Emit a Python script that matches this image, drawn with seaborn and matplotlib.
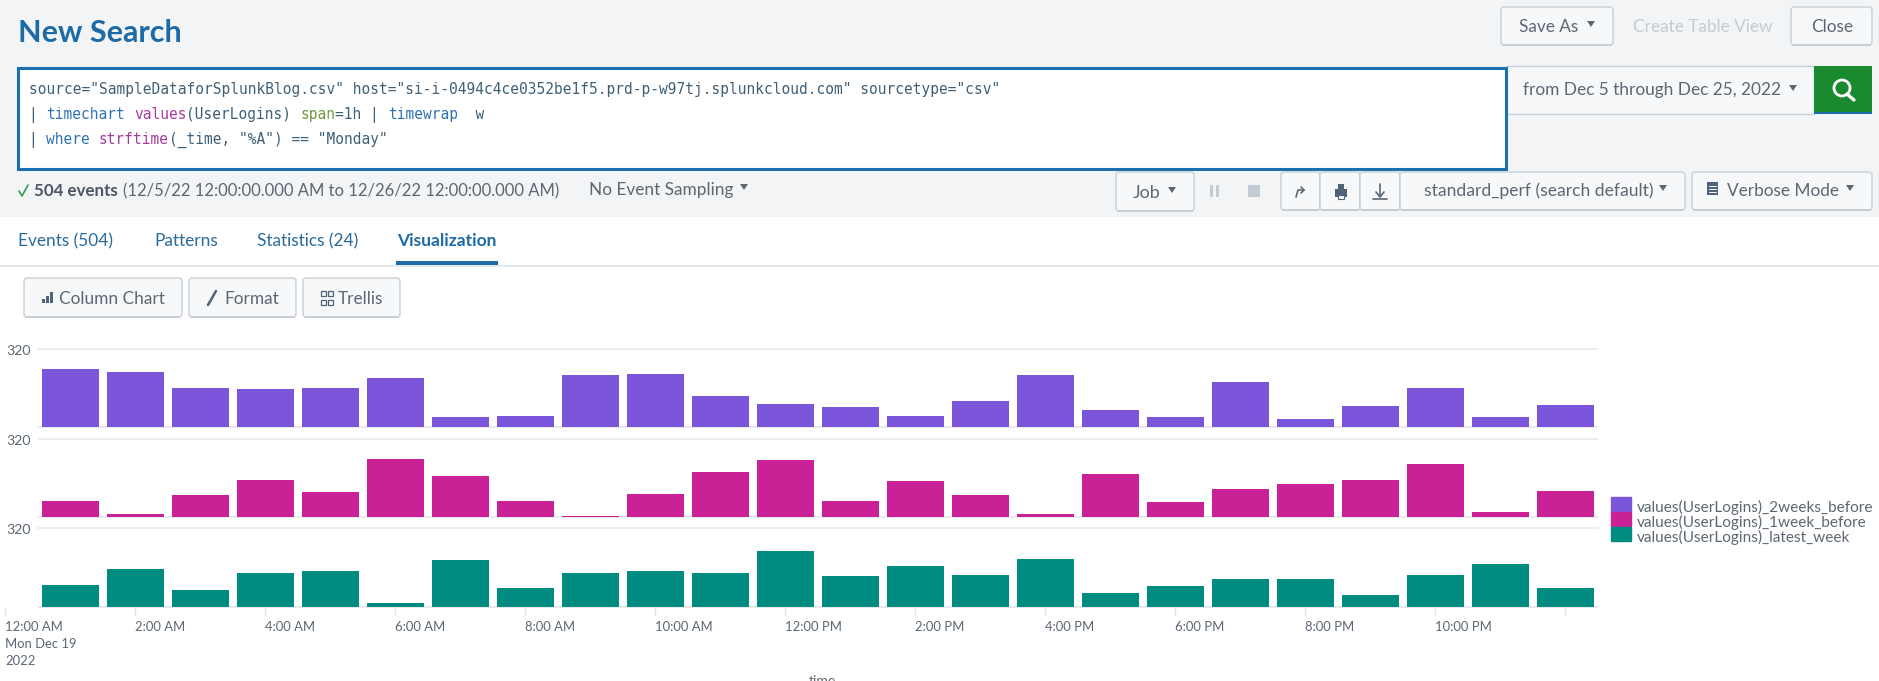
import matplotlib
matplotlib.use("Agg")
import matplotlib.pyplot as plt
from matplotlib.patches import Rectangle, FancyBboxPatch, Polygon, Circle, Patch
from matplotlib.transforms import ScaledTranslation
import pandas as pd
import seaborn as sns

hours = [f"{h:02d}:00" for h in range(24)]
two_weeks_before = [239, 226, 163, 159, 163, 204, 41, 45, 215, 220, 127, 97,
                    82, 45, 107, 215, 71, 41, 185, 36, 86, 163, 41, 92]
one_week_before = [66, 15, 92, 153, 103, 241, 168, 66, 5, 97, 185, 235,
                   66, 148, 92, 15, 179, 62, 118, 138, 153, 220, 21, 107]
latest_week = [88, 155, 67, 139, 145, 16, 190, 78, 139, 145, 139, 227,
               124, 165, 129, 196, 57, 83, 114, 114, 46, 129, 175, 78]
series_names = ["values(UserLogins)_2weeks_before",
                "values(UserLogins)_1week_before",
                "values(UserLogins)_latest_week"]
series_values = [two_weeks_before, one_week_before, latest_week]
series_colors = ["#7B56DB", "#CB2196", "#008C80"]
y_max = 320
x_tick_labels = ["12:00 AM\nMon Dec 19\n2022", "2:00 AM", "4:00 AM", "6:00 AM", "8:00 AM",
                 "10:00 AM", "12:00 PM", "2:00 PM", "4:00 PM", "6:00 PM", "8:00 PM", "10:00 PM", ""]

W, H = 1879, 681
sns.set_theme(style="white")
plt.rcParams["font.family"] = ["Lato", "DejaVu Sans"]
fig = plt.figure(figsize=(W / 100, H / 100), dpi=100, facecolor="white")

# ---------- search-page chrome, laid out in pixels ----------
ui = fig.add_axes([0, 0, 1, 1], zorder=0)
ui.set_xlim(0, W); ui.set_ylim(H, 0); ui.axis("off")
BLUE, GREY, MUTED = "#1e6aa6", "#5c6773", "#c3cbd4"

def T(x, y, s, px=16, color=GREY, ha="left", **kw):
    ui.text(x, y, s, fontsize=px * 0.72, color=color, ha=ha, va="center_baseline", **kw)

def R(x0, y0, x1, y1, fc, ec="none", lw=0, z=1):
    ui.add_patch(Rectangle((x0, y0), x1 - x0, y1 - y0, fc=fc, ec=ec, lw=lw, zorder=z))

def B(x0, y0, x1, y1):
    ui.add_patch(FancyBboxPatch((x0 + 2, y0 + 2), x1 - x0 - 4, y1 - y0 - 4,
                                boxstyle="round,pad=2,rounding_size=3",
                                fc="#f7f8fa", ec="#c8cfd6", lw=1.0, zorder=2))
    ui.plot([x0 + 2, x1 - 2], [y1, y1], color="#c3cbd4", lw=1.2, zorder=3)

def caret(x, y, c=GREY):
    ui.add_patch(Polygon([(x - 4, y - 3), (x + 4, y - 3), (x, y + 3)], fc=c, ec="none", zorder=4))

R(0, 0, W, 217, "#f2f4f5", z=0)
T(18, 31, "New Search", 30.5, BLUE, weight="bold")

B(1501, 7, 1613, 45); T(1519, 25, "Save As", 17.3); caret(1591, 24)
T(1703, 25, "Create Table View", 17.3, MUTED, ha="center")
B(1791, 7, 1872, 45); T(1832, 25, "Close", 17.3, ha="center")

# query box
R(1506, 66, 1814, 114, "#f7f8fa", "#c8cfd6", 1.0, z=1)
R(18.5, 67.5, 1506, 168.5, "white", "#1a6fb0", 2.2, z=2)
T(1523, 89, "from Dec 5 through Dec 25, 2022", 17.3); caret(1793, 88)
R(1814, 66, 1872, 114, "#1a8a2e", z=2)
R(1814, 112, 1872, 114, "#1a6fb0", z=3)
ui.add_patch(Circle((1842, 88), 8, fc="none", ec="white", lw=2, zorder=4))
ui.plot([1847, 1854], [94, 100], color="white", lw=2.4, zorder=4)

C_TXT, C_CMD, C_FN, C_ARG = "#3f5f76", "#2d72b5", "#a8389f", "#6c9a3c"
code_lines = [
    [('source="SampleDataforSplunkBlog.csv" host="si-i-0494c4ce0352be1f5.prd-p-w97tj.splunkcloud.com" sourcetype="csv"', C_TXT)],
    [("| ", C_TXT), ("timechart", C_CMD), (" ", C_TXT), ("values", C_FN), ("(UserLogins) ", C_TXT),
     ("span", C_ARG), ("=1h | ", C_TXT), ("timewrap", C_CMD), ("  w", C_TXT)],
    [("| ", C_TXT), ("where", C_CMD), (" ", C_TXT), ("strftime", C_FN), ('(_time, "%A") == "Monday"', C_TXT)],
]
CHAR = 8.75
for y, segs in zip([88, 113, 138], code_lines):
    x = 29
    for s, c in segs:
        ui.text(x, y, s, family="DejaVu Sans Mono", fontsize=10.45, color=c, ha="left",
                va="center_baseline", zorder=5)
        x += CHAR * len(s)

# status row
ui.plot([19, 22, 28], [191, 196, 185], color="#3c9a55", lw=1.2, zorder=4)
T(34, 190, "504 events", 17, "#4c5763", weight="bold")
T(123, 190, "(12/5/22 12:00:00.000 AM to 12/26/22 12:00:00.000 AM)", 16.6)
T(589, 188, "No Event Sampling", 17.3); caret(744, 187)
B(1116, 172, 1194, 211); T(1133, 191, "Job", 18); caret(1172, 190)
R(1210, 185, 1213, 197, MUTED); R(1216, 185, 1219, 197, MUTED); R(1248, 185, 1260, 197, MUTED)
B(1281, 172, 1320, 210); B(1320, 172, 1360, 210); B(1360, 172, 1400, 210)
ui.plot([1296, 1298, 1304], [197, 190, 190], color=GREY, lw=1.2, zorder=4)
ui.plot([1301, 1304, 1301], [187, 190, 193], color=GREY, lw=1.2, zorder=4)
R(1335, 189, 1347, 197, "#4f6478", z=4); R(1338, 184, 1344, 189, "#4f6478", z=4); R(1338, 195, 1344, 199, "white", "#4f6478", 0.8, z=5)
ui.plot([1380, 1380], [184, 196], color=GREY, lw=1.2, zorder=4)
ui.plot([1376, 1380, 1384], [192, 197, 192], color=GREY, lw=1.2, zorder=4)
ui.plot([1373, 1387], [199, 199], color=GREY, lw=1.2, zorder=4)
B(1400, 172, 1685, 210); T(1424, 189, "standard_perf (search default)", 17.5); caret(1663, 188)
B(1692, 172, 1872, 210); T(1727, 189, "Verbose Mode", 17.3); caret(1850, 188)
R(1707, 182, 1718, 195, "#4f6478", z=4)
for yy in (185.5, 188.5, 191.5):
    ui.plot([1709, 1716], [yy, yy], color="white", lw=0.7, zorder=5)

# tabs
T(18, 240, "Events (504)", 17.2, "#2a6a9c")
T(154, 240, "Patterns", 17.2, "#2a6a9c")
T(257, 240, "Statistics (24)", 17.2, "#2a6a9c")
T(397, 240, "Visualization", 17.4, BLUE, weight="bold")
ui.plot([0, W], [265.5, 265.5], color="#e0e4e8", lw=1.2, zorder=1)
R(396, 261, 498, 265, BLUE, z=3)

# viz buttons
B(24, 278, 182, 317); B(189, 278, 296, 317); B(303, 278, 400, 317)
for x0, h in [(42, 4), (46, 7), (50, 11)]:
    R(x0, 303 - h, x0 + 3, 303, "#4f6478", z=4)
T(59, 297, "Column Chart", 17.3, ha="left")
ui.plot([208, 216], [305, 291], color="#4f6478", lw=1.8, zorder=4)
T(224, 297, "Format", 17.3)
for xx in (321, 328):
    for yy in (291, 300):
        R(xx, yy, xx + 5, yy + 5, "none", "#4f6478", 0.9, z=4)
T(338, 297, "Trellis", 17.3)

# ---------- chart ----------
df = pd.DataFrame({
    "hour": hours * 3,
    "value": sum(series_values, []),
    "series": sum([[n] * 24 for n in series_names], []),
})

X0, X1 = 5, 1598                        # axes span (tick at far left lies outside the bars)
panels = [(349.3, 427.3), (439.3, 517.3), (528.2, 606.7)]
x_left = -1.007
y_shift = ScaledTranslation(0, -1 / 100, fig.dpi_scale_trans)
axes = []
for (top, bot), name, color in zip(panels, series_names, series_colors):
    ax = fig.add_axes([X0 / W, 1 - bot / H, (X1 - X0) / W, (bot - top) / H], zorder=2)
    ax.patch.set_alpha(0)
    sns.barplot(data=df[df["series"] == name], x="hour", y="value", color=color,
                saturation=1, width=0.877, order=hours, ax=ax, zorder=3,
                edgecolor=color, linewidth=0)
    ax.set_xlim(x_left, 23.5)
    ax.set_ylim(0, y_max)
    ax.set_xlabel(""); ax.set_ylabel("")
    sns.despine(ax=ax, left=True, bottom=True, top=True, right=True)
    ax.plot([-0.5, 23.5], [y_max, y_max], color="#e6e9ec", lw=1.2, zorder=1, clip_on=False)
    ax.plot([-0.5, 23.5], [0, 0], color="#e8ebee", lw=1.4, zorder=1, clip_on=False)
    ax.set_yticks([y_max], [str(y_max)])
    ax.tick_params(axis="y", length=0, pad=-1, labelsize=10.2, labelcolor=GREY)
    for lab in ax.get_yticklabels():
        lab.set_ha("left")
        lab.set_transform(lab.get_transform() + y_shift)
    ax.set_xticks([])
    axes.append(ax)

ax = axes[-1]
ax.set_xticks(list(range(-1, 24, 2)), x_tick_labels)
ax.tick_params(axis="x", length=6, width=1, color="#dfe3e7", pad=4, labelsize=9.4, labelcolor=GREY, bottom=True)
for lab in ax.get_xticklabels():
    lab.set_ha("left"); lab.set_linespacing(1.5)

handles = [Patch(color=c, label=n) for n, c in zip(series_names, series_colors)]
leg = fig.legend(handles=handles, loc="upper left", bbox_to_anchor=(1611 / W, 1 - 497 / H),
                 frameon=False, fontsize=11.05, labelspacing=0, borderpad=0, borderaxespad=0,
                 handlelength=1.31, handleheight=0.98, handletextpad=0.36, labelcolor=GREY)
for t in leg.get_texts():
    t.set_y(-2.5)

T(809, 680, "time", 14)

fig.savefig("out.png", dpi=100)
